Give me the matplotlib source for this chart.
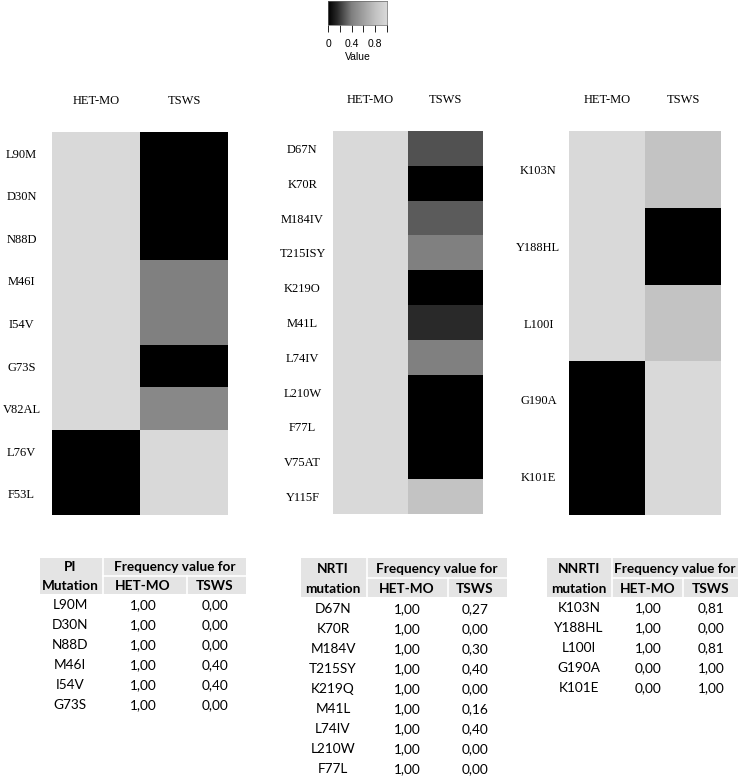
import matplotlib
matplotlib.use("Agg")
import matplotlib.pyplot as plt
import numpy as np
from matplotlib.colors import LinearSegmentedColormap
from matplotlib.patches import Rectangle

# datos de los mapas de calor
groups = ["HET-MO", "TSWS"]

pi_rows = ["L90M", "D30N", "N88D", "M46I", "I54V", "G73S", "V82AL", "L76V", "F53L"]
pi_het = [1, 1, 1, 1, 1, 1, 1, 0, 0]
pi_tsws = [0, 0, 0, 0.40, 0.40, 0, 0.45, 1, 1]

nrti_rows = ["D67N", "K70R", "M184IV", "T215ISY", "K219O", "M41L", "L74IV",
             "L210W", "F77L", "V75AT", "Y115F"]
nrti_het = [1] * 11
nrti_tsws = [0.27, 0, 0.30, 0.40, 0, 0.16, 0.40, 0, 0, 0, 0.81]

nnrti_rows = ["K103N", "Y188HL", "L100I", "G190A", "K101E"]
nnrti_het = [1, 1, 1, 0, 0]
nnrti_tsws = [0.81, 0, 0.81, 1, 1]

# datos de las tablas
pi_tab_mut = ["L90M", "D30N", "N88D", "M46I", "I54V", "G73S"]
pi_tab_het = ["1,00", "1,00", "1,00", "1,00", "1,00", "1,00"]
pi_tab_tsws = ["0,00", "0,00", "0,00", "0,40", "0,40", "0,00"]

nrti_tab_mut = ["D67N", "K70R", "M184V", "T215SY", "K219Q", "M41L", "L74IV", "L210W", "F77L"]
nrti_tab_het = ["1,00"] * 9
nrti_tab_tsws = ["0,27", "0,00", "0,30", "0,40", "0,00", "0,16", "0,40", "0,00", "0,00"]

nnrti_tab_mut = ["K103N", "Y188HL", "L100I", "G190A", "K101E"]
nnrti_tab_het = ["1,00", "1,00", "1,00", "0,00", "0,00"]
nnrti_tab_tsws = ["0,81", "0,00", "0,81", "1,00", "1,00"]

W, H = 740, 778
fig = plt.figure(figsize=(W / 100, H / 100), dpi=100)

cmap = LinearSegmentedColormap.from_list(
    "grises",
    [(0, (0, 0, 0)), (0.16, (0.165,) * 3), (0.4, (0.5,) * 3),
     (0.81, (0.765,) * 3), (1, (0.85,) * 3)])


def px_axes(x0, y0, x1, y1):
    return fig.add_axes([x0 / W, 1 - y1 / H, (x1 - x0) / W, (y1 - y0) / H])


def heatmap(box, rows, het, tsws):
    ax = px_axes(*box)
    data = np.array([het, tsws]).T
    ax.pcolormesh(data, cmap=cmap, vmin=0, vmax=1)
    ax.set_xlim(0, 2)
    ax.set_ylim(len(rows), 0)
    ax.set_xticks([0.5, 1.5])
    ax.set_xticklabels(groups, family="Liberation Serif", fontsize=9)
    ax.xaxis.tick_top()
    ax.set_yticks(np.arange(len(rows)) + 0.5)
    ax.set_yticklabels(rows, family="Liberation Serif", fontsize=9, ha="center")
    ax.tick_params(length=0)
    ax.tick_params(axis="x", pad=18)
    ax.tick_params(axis="y", pad=22)
    for s in ax.spines.values():
        s.set_visible(False)
    return ax


heatmap((52, 132, 228, 515), pi_rows, pi_het, pi_tsws)
heatmap((333, 131, 483, 514), nrti_rows, nrti_het, nrti_tsws)
heatmap((569, 131, 721, 515), nnrti_rows, nnrti_het, nnrti_tsws)

# barra de color
cax = px_axes(328, 1, 387, 25)
grad = np.linspace(0, 1, 256).reshape(1, -1)
cax.imshow(grad, cmap=cmap, vmin=0, vmax=1, aspect="auto", extent=[0, 1, 0, 1])
cax.set_yticks([])
cax.set_xticks([0, 0.2, 0.4, 0.6, 0.8, 1.0])
cax.set_xticklabels(["0", "", "0.4", "", "0.8", ""], fontsize=7.5, family="Liberation Sans")
cax.tick_params(axis="x", length=5, width=0.6, pad=5)
cax.set_xlabel("Value", fontsize=7.5, family="Liberation Sans", labelpad=2)
for s in cax.spines.values():
    s.set_linewidth(0.5)
    s.set_color("#666666")

# tablas
tab = fig.add_axes([0, 0, 1, 1])
tab.set_xlim(0, W)
tab.set_ylim(H, 0)
tab.axis("off")
hdr = "#e4e4e4"
tfont = dict(family="Lato", fontsize=9.8, ha="center", va="center")


def table(x0, x1, sep, sep2, hy0, hy1, cx, name, r1, r2, y0, muts, hets, tsws):
    tab.add_patch(Rectangle((x0, hy0), x1 - x0, hy1 - hy0, color=hdr, lw=0))
    tab.plot([sep, sep], [hy0, hy1], color="white", lw=1.2)
    mid = (hy0 + hy1) / 2
    tab.plot([sep, x1], [mid, mid], color="white", lw=1.2)
    tab.plot([sep2, sep2], [mid, hy1], color="white", lw=1.2)
    tab.text(cx[0], r1, name[0], weight="bold", **tfont)
    tab.text(cx[0], r2, name[1], weight="bold", **tfont)
    tab.text((sep + x1) / 2, r1, "Frequency value for", weight="bold", **tfont)
    tab.text(cx[1], r2, "HET-MO", weight="bold", **tfont)
    tab.text(cx[2], r2, "TSWS", weight="bold", **tfont)
    for i, (m, a, b) in enumerate(zip(muts, hets, tsws)):
        y = y0 + 20 * i
        tab.text(cx[0], y, m, **tfont)
        tab.text(cx[1], y, a, **tfont)
        tab.text(cx[2], y, b, **tfont)


table(40, 246, 103, 187, 558, 594, (70, 143, 215), ("PI", "Mutation"), 567, 586, 605,
      pi_tab_mut, pi_tab_het, pi_tab_tsws)
table(301, 507, 367, 448, 558, 597, (333, 407, 475), ("NRTI", "mutation"), 569, 589, 609,
      nrti_tab_mut, nrti_tab_het, nrti_tab_tsws)
table(547, 738, 612, 683, 558, 597, (579, 648, 711), ("NNRTI", "mutation"), 569, 589, 608,
      nnrti_tab_mut, nnrti_tab_het, nnrti_tab_tsws)

plt.savefig("out.png", dpi=100)
plt.close("all")
